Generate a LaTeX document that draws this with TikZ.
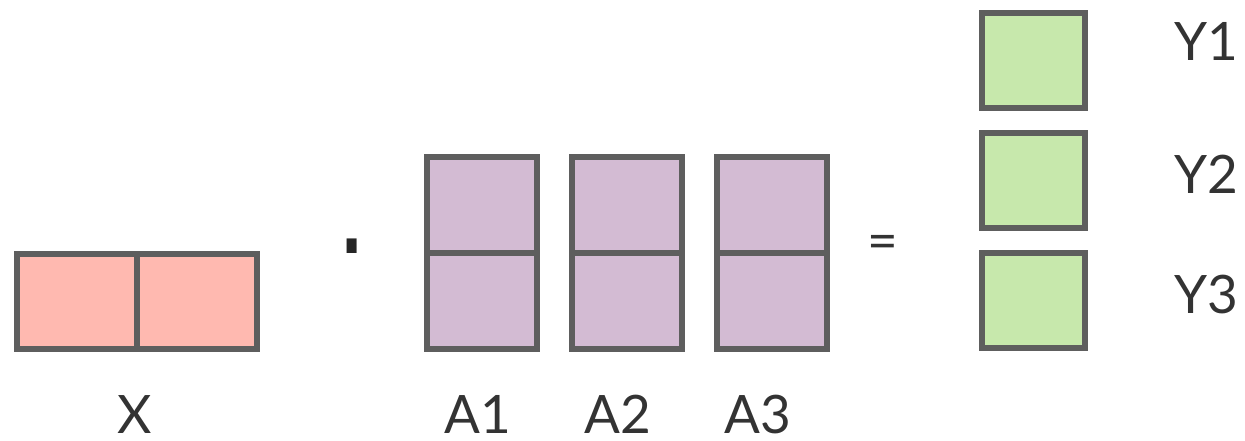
\documentclass[tikz,border=0pt]{standalone}
\usepackage{graphicx}
\usepackage{fontspec}
\setmainfont{Lato}
\newfontfamily\dotfont{Liberation Sans}
\usetikzlibrary{positioning}

\definecolor{cellline}{HTML}{5E5E5E}
\definecolor{xfill}{HTML}{FFB9B0}
\definecolor{afill}{HTML}{D3BBD3}
\definecolor{yfill}{HTML}{C7E8AC}
\definecolor{labeltext}{HTML}{333333}

\tikzset{
    cell/.style={draw=cellline, line width=6pt, rectangle, inner sep=0pt, outer sep=0pt},
    xcell/.style={cell, fill=xfill, minimum width=120pt, minimum height=95pt},
    acell/.style={cell, fill=afill, minimum width=110pt, minimum height=96pt},
    ycell/.style={cell, fill=yfill, minimum width=103.5pt, minimum height=95.5pt},
    lbl/.style={text=labeltext, font=\fontsize{53}{60}\selectfont, anchor=base, inner sep=0pt},
}

\begin{document}
\begin{tikzpicture}[x=1pt, y=-1pt]

    \useasboundingbox (0,0) rectangle (1245,440);

    % --- X (1x2) ---
    \node[xcell] (x1) at (76.5,301) {};
    \node[xcell] (x2) at (196.5,301) {};
    \node[lbl] (xlabel) at (135,433) {X};

    % --- szorzás ---
    \node[text=black!85, font=\dotfont\fontsize{105}{105}\selectfont, inner sep=0pt] (dot) at (352,246) {\scalebox{1}[1.3]{.}};

    % --- A1, A2, A3 (2x1 oszlopok) ---
    \foreach \i/\cx/\lx in {1/481.5/477.5, 2/626.5/617.5, 3/771.5/757.5} {
        \node[acell] (a\i top) at (\cx,205) {};
        \node[acell] (a\i bot) at (\cx,301) {};
        \node[lbl] (alabel\i) at (\lx,433) {A\i};
    }

    % --- egyenlőség ---
    \node[text=labeltext, font=\fontsize{53}{60}\selectfont, inner sep=0pt] (eq) at (883,247) {=};

    % --- Y1, Y2, Y3 ---
    \foreach \i/\cy/\by in {1/60.5/60, 2/180.5/193, 3/300.5/313} {
        \node[ycell] (y\i) at (1033.25,\cy) {};
        \node[lbl] (ylabel\i) at (1206,\by) {Y\i};
    }

\end{tikzpicture}
\end{document}
